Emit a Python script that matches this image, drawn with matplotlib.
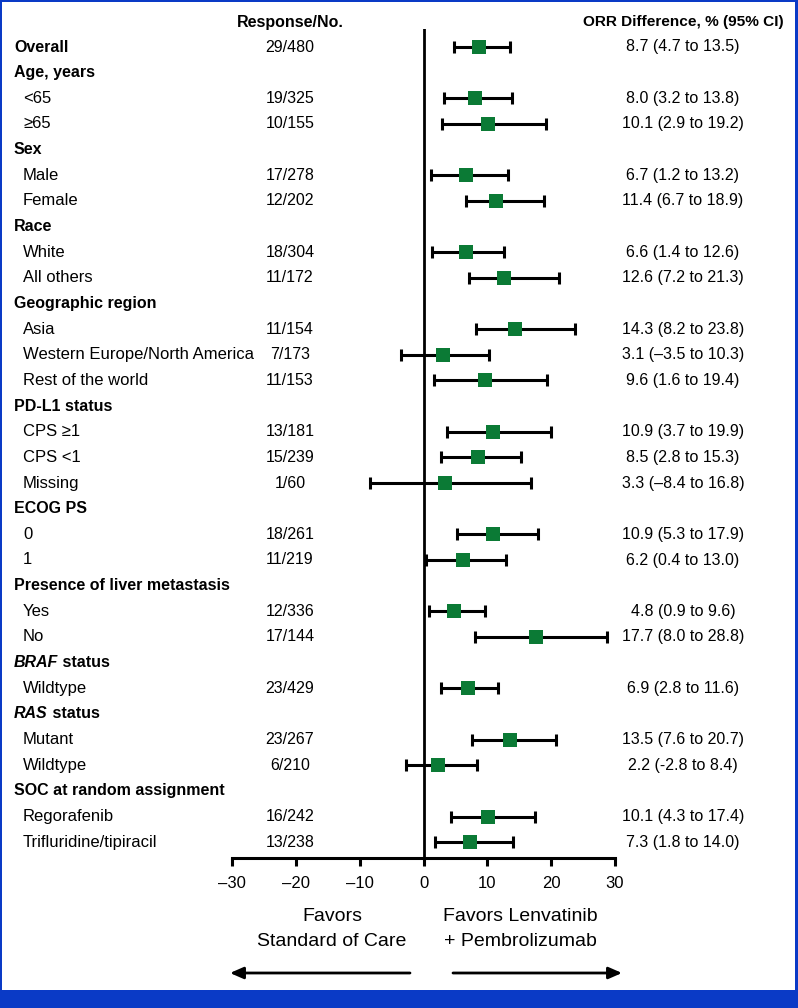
import numpy as np
import matplotlib
matplotlib.use("Agg")
import matplotlib.pyplot as plt
from matplotlib.transforms import blended_transform_factory
from matplotlib.patches import Rectangle

plt.rcParams['font.family'] = ['Liberation Sans', 'DejaVu Sans']

# ---------------- data ----------------
row_labels = ["Overall", "Age, years", "<65", "≥65", "Sex", "Male", "Female",
              "Race", "White", "All others", "Geographic region", "Asia",
              "Western Europe/North America", "Rest of the world", "PD-L1 status",
              "CPS ≥1", "CPS <1", "Missing", "ECOG PS", "0", "1",
              "Presence of liver metastasis", "Yes", "No", "BRAF status", "Wildtype",
              "RAS status", "Mutant", "Wildtype", "SOC at random assignment",
              "Regorafenib", "Trifluridine/tipiracil"]
# 'o' overall (bold w/ data), 'h' header, 's' subgroup
row_kind = ["o", "h", "s", "s", "h", "s", "s", "h", "s", "s", "h", "s", "s", "s",
            "h", "s", "s", "s", "h", "s", "s", "h", "s", "s", "h", "s", "h", "s",
            "s", "h", "s", "s"]
responses = ["29/480", "", "19/325", "10/155", "", "17/278", "12/202", "",
             "18/304", "11/172", "", "11/154", "7/173", "11/153", "", "13/181",
             "15/239", "1/60", "", "18/261", "11/219", "", "12/336", "17/144", "",
             "23/429", "", "23/267", "6/210", "", "16/242", "13/238"]
nan = np.nan
estimates = [8.7, nan, 8.0, 10.1, nan, 6.7, 11.4, nan, 6.6, 12.6, nan, 14.3, 3.1, 9.6,
             nan, 10.9, 8.5, 3.3, nan, 10.9, 6.2, nan, 4.8, 17.7, nan, 6.9, nan, 13.5,
             2.2, nan, 10.1, 7.3]
lower = [4.7, nan, 3.2, 2.9, nan, 1.2, 6.7, nan, 1.4, 7.2, nan, 8.2, -3.5, 1.6,
         nan, 3.7, 2.8, -8.4, nan, 5.3, 0.4, nan, 0.9, 8.0, nan, 2.8, nan, 7.6,
         -2.8, nan, 4.3, 1.8]
upper = [13.5, nan, 13.8, 19.2, nan, 13.2, 18.9, nan, 12.6, 21.3, nan, 23.8, 10.3, 19.4,
         nan, 19.9, 15.3, 16.8, nan, 17.9, 13.0, nan, 9.6, 28.8, nan, 11.6, nan, 20.7,
         8.4, nan, 17.4, 14.0]
ci_text = ["8.7 (4.7 to 13.5)", "", "8.0 (3.2 to 13.8)", "10.1 (2.9 to 19.2)", "",
           "6.7 (1.2 to 13.2)", "11.4 (6.7 to 18.9)", "", "6.6 (1.4 to 12.6)",
           "12.6 (7.2 to 21.3)", "", "14.3 (8.2 to 23.8)", "3.1 (–3.5 to 10.3)",
           "9.6 (1.6 to 19.4)", "", "10.9 (3.7 to 19.9)", "8.5 (2.8 to 15.3)",
           "3.3 (–8.4 to 16.8)", "", "10.9 (5.3 to 17.9)", "6.2 (0.4 to 13.0)", "",
           "4.8 (0.9 to 9.6)", "17.7 (8.0 to 28.8)", "", "6.9 (2.8 to 11.6)", "",
           "13.5 (7.6 to 20.7)", "2.2 (-2.8 to 8.4)", "", "10.1 (4.3 to 17.4)",
           "7.3 (1.8 to 14.0)"]
xticks = [-30, -20, -10, 0, 10, 20, 30]
italic_prefix = {"BRAF status": "BRAF", "RAS status": "RAS"}

# ---------------- layout ----------------
W, H = 798, 1008
fig = plt.figure(figsize=(W / 100, H / 100), dpi=100)

def fx(px):
    return px / W

def fy(py):
    return 1 - py / H

ax_left, ax_right = 232, 615
ax_top, ax_bot = 29, 858
ax = fig.add_axes([fx(ax_left), fy(ax_bot), fx(ax_right - ax_left), (ax_bot - ax_top) / H])

row0_px, row_step = 47, 25.65
n = len(row_labels)
ypos = np.arange(n)
ax.set_xlim(-30, 30)
ax.set_ylim((ax_bot - row0_px) / row_step, (ax_top - row0_px) / row_step)

for s in ["top", "right", "left"]:
    ax.spines[s].set_visible(False)
ax.spines["bottom"].set_linewidth(2.2)
ax.set_yticks([])
ax.set_xticks(xticks)
ax.set_xticklabels([("–" + str(-t)) if t < 0 else str(t) for t in xticks])
ax.tick_params(axis="x", direction="out", length=6, width=2.2, labelsize=12, pad=7)
ax.axvline(0, color="black", lw=2, zorder=1)

est = np.array(estimates)
lo = np.array(lower)
hi = np.array(upper)
mask = ~np.isnan(est)
ax.errorbar(est[mask], ypos[mask], xerr=[est[mask] - lo[mask], hi[mask] - est[mask]],
            fmt="none", ecolor="black", elinewidth=2.2, capsize=4.5, capthick=2.2, zorder=2)
ax.plot(est[mask], ypos[mask], "s", color="#0b7a35", markersize=9.5, zorder=3,
        markeredgewidth=0)

trans = blended_transform_factory(fig.transFigure, ax.transData)
fs = 11.5
fs_sub = 12
for i, (lab, kind) in enumerate(zip(row_labels, row_kind)):
    if kind in ("o", "h"):
        if lab in italic_prefix:
            pre = italic_prefix[lab]
            t1 = ax.text(fx(14), i, pre, transform=trans, fontsize=fs, fontweight="bold",
                         fontstyle="italic", ha="left", va="center", clip_on=False)
            ax.annotate(lab[len(pre):], xy=(1, 0), xycoords=t1, fontsize=fs,
                        fontweight="bold", ha="left", va="bottom", annotation_clip=False)
        else:
            ax.text(fx(14), i, lab, transform=trans, fontsize=fs, fontweight="bold",
                    ha="left", va="center", clip_on=False)
    else:
        ax.text(fx(23), i, lab, transform=trans, fontsize=fs_sub, ha="left", va="center",
                clip_on=False)
    if responses[i]:
        ax.text(fx(290), i, responses[i], transform=trans, fontsize=fs, ha="center",
                va="center", clip_on=False)
    if ci_text[i]:
        ax.text(fx(683), i, ci_text[i], transform=trans, fontsize=fs, ha="center",
                va="center", clip_on=False)

fig.text(fx(290), fy(22), "Response/No.", fontsize=fs, fontweight="bold",
         ha="center", va="center")
fig.text(fx(683), fy(22), "ORR Difference, % (95% CI)", fontsize=11.1, fontweight="bold",
         ha="center", va="center")

# favors labels
fig.text(fx(332), fy(929), "Favors\nStandard of Care", fontsize=14, ha="center",
         va="center", linespacing=1.55)
fig.text(fx(520), fy(929), "Favors Lenvatinib\n+ Pembrolizumab", fontsize=14,
         ha="center", va="center", linespacing=1.55)

arrowprops = dict(arrowstyle="-|>,head_length=0.8,head_width=0.35", color="black",
                  lw=2, shrinkA=0, shrinkB=0)
ax.annotate("", xy=(230, H - 973), xytext=(410, H - 973), xycoords="figure pixels",
            textcoords="figure pixels", arrowprops=arrowprops, annotation_clip=False)
ax.annotate("", xy=(622, H - 973), xytext=(453, H - 973), xycoords="figure pixels",
            textcoords="figure pixels", arrowprops=arrowprops, annotation_clip=False)

# blue frame
blue = "#0a3ac6"
fig.add_artist(Rectangle((0, 0), 1, 18 / H, transform=fig.transFigure, color=blue, lw=0))
fig.add_artist(Rectangle((0, 0), 2 / W, 1, transform=fig.transFigure, color=blue, lw=0))
fig.add_artist(Rectangle((1 - 3 / W, 0), 3 / W, 1, transform=fig.transFigure, color=blue, lw=0))
fig.add_artist(Rectangle((0, 1 - 1.5 / H), 1, 1.5 / H, transform=fig.transFigure, color=blue, lw=0))

fig.savefig("out.png", dpi=100)
